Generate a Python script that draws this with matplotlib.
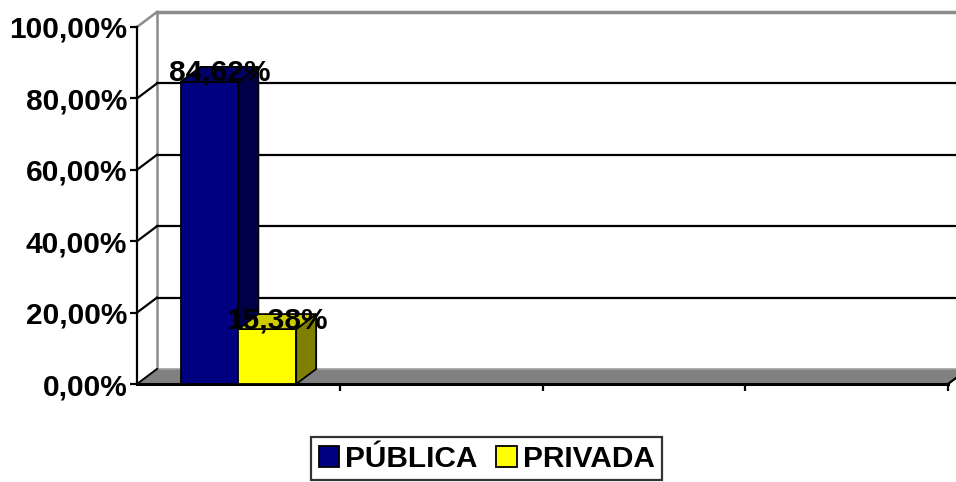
import matplotlib
matplotlib.use("Agg")
import matplotlib.pyplot as plt
from matplotlib.patches import Polygon, Patch

# data
series = ["PÚBLICA", "PRIVADA"]
values = [84.62, 15.38]
value_labels = ["84,62%", "15,38%"]
front_colors = ["#000080", "#FFFF00"]
side_colors = ["#000048", "#808000"]
top_colors = ["#000066", "#CCCC00"]
yticks = [0, 20, 40, 60, 80, 100]
ytick_labels = ["0,00%", "20,00%", "40,00%", "60,00%", "80,00%", "100,00%"]
n_slots = 4

plt.rcParams['font.family'] = ['Liberation Sans', 'DejaVu Sans']
plt.rcParams['font.weight'] = 'bold'
FS = 21.5

fig = plt.figure(figsize=(9.56, 4.82), dpi=100)
ax = fig.add_axes([137 / 956, 98 / 482, 811 / 956, 357 / 482])
ax.set_xlim(0, n_slots)
ax.set_ylim(0, 100)

# 3d depth (pixels) -> data units
fig.canvas.draw()
inv = ax.transData.inverted()
x0, y0 = ax.transData.transform((0, 0))
ddx, ddy = inv.transform((x0 + 20, y0 + 15)) - inv.transform((x0, y0))

# walls and floor
floor = Polygon([(0, 0), (n_slots, 0), (n_slots + ddx, ddy), (ddx, ddy)],
                closed=True, facecolor='#808080', edgecolor='#a0a0a0',
                linewidth=1.2, clip_on=False, zorder=1)
ax.add_patch(floor)
wall_gray = '#8c8c8c'
ax.plot([ddx, ddx], [ddy, 100 + ddy], color=wall_gray, lw=1.8, clip_on=False, zorder=1)
ax.plot([ddx, n_slots + 2 * ddx], [100 + ddy, 100 + ddy], color=wall_gray, lw=2.5, clip_on=False, zorder=1)
ax.plot([0, ddx], [100, 100 + ddy], color=wall_gray, lw=1.8, clip_on=False, zorder=1)
for t in yticks[1:-1]:
    ax.plot([ddx, n_slots + 2 * ddx], [t + ddy, t + ddy], color='black', lw=1.6, clip_on=False, zorder=1)
    ax.plot([0, ddx], [t, t + ddy], color='black', lw=1.6, clip_on=False, zorder=1)
ax.plot([0, ddx], [0, ddy], color='black', lw=1.4, clip_on=False, zorder=1.5)
ax.plot([n_slots, n_slots + ddx], [0, ddy], color='black', lw=1.6, clip_on=False, zorder=1.5)

# bars
width = 0.285
centers = [0.5 - width / 2, 0.5 + width / 2]
for i in range(len(values)):
    xc, v = centers[i], values[i]
    xl, xr = xc - width / 2, xc + width / 2
    ax.bar(xc, v, width, color=front_colors[i], edgecolor='black', linewidth=1.3,
           zorder=3 + i)
    side = Polygon([(xr, 0), (xr + ddx, ddy), (xr + ddx, v + ddy), (xr, v)],
                   closed=True, facecolor=side_colors[i], edgecolor='black',
                   linewidth=1.3, zorder=3 + i, clip_on=False)
    top = Polygon([(xl, v), (xr, v), (xr + ddx, v + ddy), (xl + ddx, v + ddy)],
                  closed=True, facecolor=top_colors[i], edgecolor='black',
                  linewidth=1.3, zorder=3 + i, clip_on=False)
    ax.add_patch(side)
    ax.add_patch(top)
    ax.text(xc + ddx / 2, v + ddy * 0.6, value_labels[i], ha='center', va='center',
            fontsize=FS, fontweight='bold', zorder=10, clip_on=False)

# axes
for s in ['top', 'right']:
    ax.spines[s].set_visible(False)
ax.spines['left'].set_linewidth(1.6)
ax.spines['bottom'].set_linewidth(2.2)
ax.spines['left'].set_zorder(2)
ax.spines['bottom'].set_zorder(2)
ax.set_yticks(yticks)
ax.set_yticklabels(ytick_labels, fontsize=FS, fontweight='bold')
ax.set_xticks(range(1, n_slots + 1))
ax.set_xticklabels([])
ax.tick_params(axis='y', direction='out', length=5, width=1.6, pad=2)
ax.tick_params(axis='x', direction='out', length=5, width=1.6)
ax.patch.set_visible(False)

handles = [Patch(facecolor=c, edgecolor='black', linewidth=1.3) for c in front_colors]
leg = fig.legend(handles, series, loc='upper center', bbox_to_anchor=(0.509, 0.093),
                 ncol=2, frameon=True, fancybox=False, edgecolor='black',
                 prop={'size': FS, 'weight': 'bold'}, handlelength=0.7,
                 handleheight=0.7, handletextpad=0.2, columnspacing=0.6,
                 borderpad=0.25, borderaxespad=0)
leg.get_frame().set_linewidth(1.6)

fig.savefig("out.png", dpi=100)
